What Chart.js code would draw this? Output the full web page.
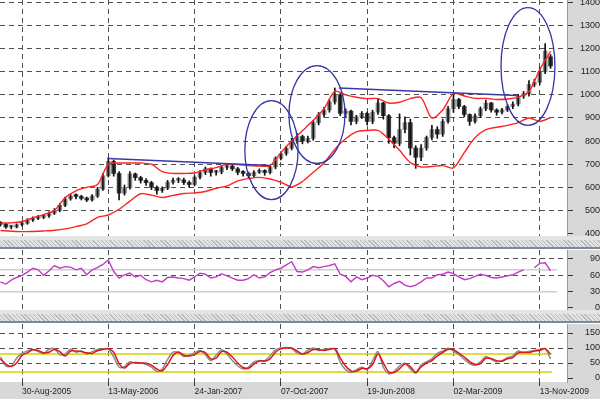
<!DOCTYPE html>
<html>
<head>
<meta charset="utf-8">
<script src="https://cdn.jsdelivr.net/npm/chart.js@4.4.0/dist/chart.umd.min.js"></script>
<style>
  html, body { margin: 0; padding: 0; }
  body { width: 600px; height: 399px; background: #d8d8d8; position: relative; overflow: hidden; }
  canvas { position: absolute; left: 0; display: block; }
  .sep {
    position: absolute; left: 0; width: 600px; height: 14px;
    background:
      linear-gradient(#e4e4e4 0 4px, transparent 4px 11px, #7c8a98 11px 13px, #ffffff 13px 14px),
      repeating-linear-gradient(45deg, #b9b9b9 0 1px, #e3e3e3 1px 3px);
  }
</style>
</head>
<body>
<canvas id="price" width="600" height="236" style="top:0"></canvas>
<div class="sep" style="top:236px"></div>
<canvas id="rsi" width="600" height="60" style="top:250px"></canvas>
<div class="sep" style="top:310px"></div>
<canvas id="stoch" width="600" height="75" style="top:324px"></canvas>
<script>
/*
  ==================================================
  ====================== DATA ======================
  ==================================================
*/

// x values are days counted from 30-Aug-2005, one bar every 16 days
const firstBarDay = -64;
const barStep = 16;

const tickDays = [0, 256, 512, 768, 1024, 1280, 1536];
const tickLabels = ['30-Aug-2005', '13-May-2006', '24-Jan-2007', '07-Oct-2007', '19-Jun-2008', '02-Mar-2009', '13-Nov-2009'];

const priceTicks = [400, 500, 600, 700, 800, 900, 1000, 1100, 1200, 1300, 1400];
const rsiTicks = [0, 30, 60, 90];
const stochTicks = [0, 50, 100, 150];

const opens = [
  445, 440, 428, 428, 438, 445, 458, 465, 470, 476,
  488, 500, 522, 550, 562, 560, 552, 545, 562, 592,
  650, 712, 660, 575, 598, 658, 642, 630, 620, 600,
  586, 596, 622, 630, 632, 621, 612, 644, 664, 680,
  664, 666, 686, 692, 680, 665, 660, 650, 665, 672,
  664, 688, 725, 746, 770, 800, 820, 800, 812, 880,
  915, 935, 970, 1000, 920, 930, 885, 905, 920, 885,
  925, 965, 910, 815, 790, 850, 880, 770, 730, 770,
  815, 850, 830, 885, 940, 980, 950, 915, 885, 910,
  940, 965, 935, 925, 935, 950, 960, 995, 1005, 1045,
  1055, 1100, 1165
];
const closes = [
  440, 428, 428, 438, 445, 458, 465, 470, 476, 488,
  500, 522, 550, 562, 560, 552, 545, 562, 592, 650,
  712, 660, 575, 598, 658, 642, 630, 620, 600, 586,
  596, 622, 630, 632, 621, 612, 644, 664, 680, 664,
  666, 686, 692, 680, 665, 660, 650, 665, 672, 664,
  688, 725, 746, 770, 800, 820, 800, 812, 880, 915,
  935, 970, 1000, 920, 930, 885, 905, 920, 885, 925,
  965, 910, 815, 790, 850, 880, 770, 730, 770, 815,
  850, 830, 885, 940, 980, 950, 915, 885, 910, 940,
  965, 935, 925, 935, 950, 960, 995, 1005, 1045, 1055,
  1100, 1190, 1125
];
const highs = [
  452, 444, 434, 442, 450, 464, 472, 478, 482, 494,
  508, 530, 558, 570, 572, 566, 558, 568, 600, 660,
  728, 718, 668, 610, 668, 662, 648, 638, 626, 606,
  602, 630, 640, 642, 640, 628, 650, 672, 688, 684,
  674, 694, 698, 698, 686, 672, 666, 672, 680, 676,
  694, 732, 754, 778, 812, 834, 826, 822, 890, 924,
  946, 980, 1030, 1006, 940, 934, 912, 928, 926, 934,
  985, 968, 915, 822, 918, 905, 895, 780, 785, 822,
  868, 862, 895, 950, 1005, 985, 955, 918, 918, 948,
  978, 968, 940, 942, 958, 970, 1002, 1015, 1062, 1068,
  1118, 1222, 1175
];
const lows = [
  432, 422, 420, 424, 432, 440, 452, 460, 464, 470,
  482, 494, 516, 544, 550, 545, 538, 540, 556, 586,
  645, 648, 545, 566, 592, 630, 618, 608, 590, 570,
  578, 590, 614, 620, 612, 600, 606, 636, 655, 648,
  652, 658, 676, 672, 654, 648, 640, 644, 660, 652,
  658, 680, 718, 738, 762, 790, 788, 792, 804, 870,
  905, 925, 960, 910, 905, 870, 875, 898, 870, 875,
  915, 895, 790, 770, 780, 835, 740, 682, 715, 760,
  805, 812, 820, 878, 925, 940, 905, 868, 878, 902,
  932, 925, 912, 918, 928, 940, 952, 985, 995, 1035,
  1045, 1092, 1115
];

// bollinger bands, one value every second bar
const bandStep = 32;
const upperBand = [
  445, 446, 452, 468, 482, 500, 555, 585, 600, 612,
  700, 705, 705, 705, 700, 668, 660, 660, 662, 676,
  685, 700, 698, 694, 692, 694, 750, 800, 845, 890,
  940, 1015, 1000, 990, 984, 984, 965, 968, 984, 988,
  900, 935, 1005, 995, 985, 985, 980, 982, 990, 1015,
  1110, 1188
];
const lowerBand = [
  413, 410, 408, 409, 411, 414, 420, 430, 442, 470,
  480, 505, 540, 572, 566, 556, 565, 573, 576, 582,
  596, 605, 628, 638, 643, 636, 622, 602, 625, 665,
  705, 765, 810, 840, 846, 846, 808, 760, 707, 688,
  690, 694, 684, 750, 815, 850, 860, 868, 880, 900,
  885, 902
];

const rsi = [
  48, 44, 51, 56, 60, 66, 73, 70, 60, 68,
  78, 73, 76, 75, 70, 73, 61, 70, 74, 80,
  88, 67, 55, 61, 64, 57, 60, 52, 48, 51,
  48, 56, 57, 55, 54, 51, 57, 64, 62, 55,
  57, 63, 59, 55, 51, 51, 54, 61, 55, 57,
  65, 70, 73, 79, 85, 67, 66, 70, 76, 74,
  76, 78, 81, 62, 58, 48, 57, 52, 55, 60,
  58, 50, 39, 45, 49, 42, 39, 42, 48, 55,
  55, 61, 62, 66, 63, 57, 52, 54, 58, 62,
  60, 56, 55, 57, 59, 61, 66, 70, null, 74,
  82, 83, 68
];
const rsiLevels = [70, 30];
const rsiLevelEnd = 1587;

const stochK = [
  70, 40, 40, 66, 82, 90, 96, 88, 82, 96,
  98, 78, 80, 97, 86, 90, 80, 88, 95, 97,
  96, 70, 36, 38, 54, 50, 50, 46, 36, 22,
  30, 62, 86, 84, 72, 76, 84, 92, 78, 58,
  76, 94, 80, 58, 40, 30, 36, 54, 58, 58,
  74, 94, 100, 102, 98, 84, 80, 92, 100, 92,
  94, 98, 96, 52, 28, 18, 28, 36, 28, 58,
  88, 36, 14, 22, 40, 50, 30, 16, 44, 54,
  64, 82, 90, 99, 90, 78, 62, 48, 42, 54,
  72, 62, 54, 58, 68, 74, 90, 84, 88, 92,
  95, 98, 64
];
const stochD = [
  64, 46, 38, 50, 76, 84, 94, 92, 84, 86,
  95, 88, 73, 90, 90, 88, 84, 82, 91, 95,
  98, 86, 48, 33, 48, 52, 50, 49, 43, 30,
  24, 45, 75, 87, 76, 73, 78, 88, 85, 64,
  66, 88, 86, 70, 50, 35, 32, 46, 57, 56,
  64, 86, 97, 100, 100, 90, 80, 85, 95, 94,
  92, 95, 98, 67, 40, 24, 23, 32, 31, 45,
  80, 50, 20, 18, 31, 47, 38, 19, 37, 50,
  58, 74, 85, 96, 94, 83, 70, 55, 46, 48,
  66, 65, 58, 56, 64, 68, 84, 86, 85, 90,
  92, 98, 80
];
const stochLevels = [80, 20];
const stochLevelEnd = 1572;

// drawn trend lines: [startDay, endDay], [startPrice, endPrice]
const trendDays = [[255, 736], [940, 1468]];
const trendPrices = [[725, 694], [1030, 997]];

// drawn ellipses: centre and half size in days / price
const ringDays = [740, 875, 1501];
const ringPrices = [761, 915, 1123];
const ringHalfDays = [79, 83, 80];
const ringHalfPrices = [214, 212, 255];

/*
  ==================================================
  ===================== COMMON =====================
  ==================================================
*/

const dayMin = -65.3;
const dayMax = 1616.8;
const gridColor = '#505050';
const labelFont = { family: '"Liberation Sans", Arial, sans-serif', size: 9 };

let barDays = closes.map((c, i) => firstBarDay + i * barStep);
let bandDays = upperBand.map((v, i) => firstBarDay + i * bandStep);

const paneBackground = {
  id: 'paneBackground',
  beforeDraw(chart) {
    const { ctx, chartArea: a } = chart;
    ctx.save();
    ctx.fillStyle = '#d8d8d8';
    ctx.fillRect(0, 0, chart.width, chart.height);
    ctx.fillStyle = '#ffffff';
    ctx.fillRect(a.left, a.top, a.right - a.left, a.bottom - a.top);
    ctx.restore();
  }
};

const rings = {
  id: 'rings',
  afterDatasetsDraw(chart) {
    const { ctx, chartArea: a } = chart;
    const xs = chart.scales.x, ys = chart.scales.y;
    ctx.save();
    ctx.beginPath();
    ctx.rect(a.left, a.top, a.right - a.left, a.bottom - a.top);
    ctx.clip();
    ctx.strokeStyle = '#3535a6';
    ctx.lineWidth = 1.3;
    ringDays.forEach((d, i) => {
      let cx = xs.getPixelForValue(d);
      let cy = ys.getPixelForValue(ringPrices[i]);
      let rx = Math.abs(xs.getPixelForValue(d + ringHalfDays[i]) - cx);
      let ry = Math.abs(ys.getPixelForValue(ringPrices[i] + ringHalfPrices[i]) - cy);
      ctx.beginPath();
      ctx.ellipse(cx, cy, rx, ry, 0, 0, Math.PI * 2);
      ctx.stroke();
    });
    ctx.restore();
  }
};

let xScale = (showLabels) => ({
  type: 'linear',
  min: dayMin,
  max: dayMax,
  offset: false,
  afterBuildTicks: s => { s.ticks = tickDays.map(v => ({ value: v })); },
  afterFit: s => {
    s.height = showLabels ? 17 : 0;
    s.paddingLeft = 0; s.paddingRight = 0;
  },
  grid: { color: gridColor, lineWidth: 1, offset: false, drawTicks: showLabels, tickLength: 4, tickColor: '#333' },
  border: { display: false, dash: [5, 4] },
  ticks: {
    display: showLabels,
    autoSkip: false,
    maxRotation: 0,
    align: 'start',
    padding: 1,
    color: '#222',
    font: { family: labelFont.family, size: 8.5 },
    callback: (v, i) => tickLabels[i]
  }
});

let yScale = (min, max, ticks, shown, pad) => ({
  type: 'linear',
  position: 'right',
  min: min,
  max: max,
  afterBuildTicks: s => { s.ticks = ticks.map(v => ({ value: v })); },
  afterFit: s => {
    s.width = 33;
    s.paddingTop = 0; s.paddingBottom = 0;
  },
  grid: {
    color: c => shown.includes(c.tick && c.tick.value) ? gridColor : 'rgba(0,0,0,0)',
    lineWidth: 1,
    tickLength: 6,
    tickColor: '#333'
  },
  border: { display: true, color: '#9a9a9a', dash: [5, 4] },
  ticks: {
    crossAlign: 'far',
    padding: pad,
    color: '#222',
    font: labelFont,
    callback: v => String(v)
  }
});

let baseOptions = (scales) => ({
  responsive: false,
  animation: false,
  events: [],
  layout: { padding: 0 },
  plugins: { legend: { display: false }, tooltip: { enabled: false } },
  scales: scales
});

let levelLine = (value, end, color) => ({
  type: 'line',
  data: [{ x: dayMin, y: value }, { x: end, y: value }],
  borderColor: color,
  borderWidth: 1.5,
  pointRadius: 0,
  order: 5
});

/*
  ==================================================
  ===================== PRICE ======================
  ==================================================
*/

let priceDatasets = [
  {
    type: 'line',
    data: bandDays.map((d, i) => ({ x: d, y: upperBand[i] })),
    borderColor: '#ff2424', borderWidth: 1.4, pointRadius: 0, tension: 0.3, order: 1
  },
  {
    type: 'line',
    data: bandDays.map((d, i) => ({ x: d, y: lowerBand[i] })),
    borderColor: '#ff2424', borderWidth: 1.4, pointRadius: 0, tension: 0.3, order: 1
  },
  {
    // wicks, drawn over the bodies
    type: 'bar',
    data: barDays.map((d, i) => ({ x: d, y: [lows[i], highs[i]] })),
    backgroundColor: '#111111',
    barThickness: 1,
    grouped: false,
    order: 2
  },
  {
    // bodies
    type: 'bar',
    data: barDays.map((d, i) => ({ x: d, y: [opens[i], closes[i]] })),
    backgroundColor: c => closes[c.dataIndex] >= opens[c.dataIndex] ? '#8c8c8c' : '#3c3c3c',
    borderWidth: 0,
    barThickness: 4,
    minBarLength: 2,
    grouped: false,
    order: 3
  }
];

trendDays.forEach((days, i) => {
  priceDatasets.push({
    type: 'line',
    data: days.map((d, j) => ({ x: d, y: trendPrices[i][j] })),
    borderColor: '#3838aa', borderWidth: 1.5, pointRadius: 0, order: 0
  });
});

new Chart(document.getElementById('price'), {
  type: 'bar',
  data: { datasets: priceDatasets },
  options: baseOptions({
    x: xScale(false),
    y: yScale(389.2, 1410.8, priceTicks, priceTicks.slice(1), 4)
  }),
  plugins: [paneBackground, rings]
});

/*
  ==================================================
  ====================== RSI =======================
  ==================================================
*/

new Chart(document.getElementById('rsi'), {
  type: 'line',
  data: {
    datasets: [
      {
        data: barDays.map((d, i) => ({ x: d, y: rsi[i] })),
        borderColor: '#c03cc8', borderWidth: 1.4, pointRadius: 0, spanGaps: false, order: 0
      },
      ...rsiLevels.map(v => levelLine(v, rsiLevelEnd, '#cdcdcd'))
    ]
  },
  options: baseOptions({
    x: xScale(false),
    y: yScale(-3.7, 106.5, rsiTicks, [60, 90], 14)
  }),
  plugins: [paneBackground]
});

/*
  ==================================================
  =================== STOCHASTIC ===================
  ==================================================
*/

new Chart(document.getElementById('stoch'), {
  type: 'line',
  data: {
    datasets: [
      {
        data: barDays.map((d, i) => ({ x: d, y: stochD[i] })),
        borderColor: '#e01414', borderWidth: 1.5, pointRadius: 0, tension: 0.3, order: 0
      },
      {
        data: barDays.map((d, i) => ({ x: d, y: stochK[i] })),
        borderColor: '#8c8c8c', borderWidth: 1.5, pointRadius: 0, tension: 0.3, order: 1
      },
      ...stochLevels.map(v => levelLine(v, stochLevelEnd, '#d2d200'))
    ]
  },
  options: baseOptions({
    x: xScale(true),
    y: yScale(-13.3, 180, stochTicks, [50, 100, 150], 9)
  }),
  plugins: [paneBackground]
});
</script>
</body>
</html>
